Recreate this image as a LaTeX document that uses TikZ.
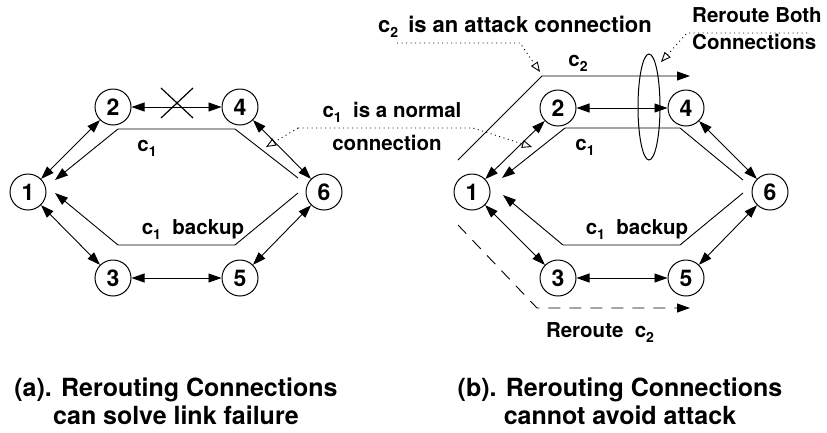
\documentclass[tikz,border=0pt]{standalone}
\usepackage{fontspec}
\setmainfont{TeX Gyre Heros}
\usetikzlibrary{arrows.meta}
% lowered, smaller index for connection names
\newcommand\idx[1]{\raisebox{-0.45ex}{\fontsize{14}{14}\selectfont #1}}

\begin{document}
\begin{tikzpicture}[x=1pt,y=-1pt,
  netnode/.style={circle,draw,line width=1pt,minimum size=36pt,inner sep=0pt,
    font=\fontsize{23}{23}\selectfont\bfseries},
  link/.style={line width=0.9pt,{Triangle[length=13pt,width=9pt]}-{Triangle[length=13pt,width=9pt]}},
  route/.style={line width=0.9pt,-{Triangle[length=13pt,width=9pt]}},
  note/.style={line width=0.9pt,dash pattern=on 1pt off 3.5pt},
  notetip/.style={note,-{Triangle[open,length=10pt,width=8pt]}},
  lbl/.style={inner sep=0pt,font=\fontsize{20.5}{24}\selectfont\bfseries},
  capt/.style={inner sep=0pt,align=center,font=\fontsize{25}{28}\selectfont\bfseries}]

\fill[white] (0,0) rectangle (827,432);
\useasboundingbox (0,0) rectangle (827,432);

% ---------- panel (a) ----------
\node[netnode] (a1) at (28,192) {1};
\node[netnode] (a2) at (113,107) {2};
\node[netnode] (a4) at (240,107) {4};
\node[netnode] (a6) at (324,192) {6};
\node[netnode] (a3) at (113,278) {3};
\node[netnode] (a5) at (240,278) {5};

\draw[link] (a1) -- (a2);
\draw[link] (a2) -- (a4);
\draw[link] (a4) -- (a6);
\draw[link] (a6) -- (a5);
\draw[link] (a5) -- (a3);
\draw[link] (a3) -- (a1);

% failed link
\draw[line width=1.2pt] (161,88) -- (193,118) (161,118) -- (193,88);

% working path and backup path of c1
\coordinate (ac1s) at (298,178);
\coordinate (ac1e) at (55,180);
\coordinate (abks) at (298,193);
\coordinate (abke) at (55,193);
\draw[route] (ac1s) -- (235,129) -- (118,129) -- (ac1e);
\draw[route] (abks) -- (235,245) -- (118,245) -- (abke);
\node[lbl] (ac1) at (147,148) {c\idx{1}};
\node[lbl] (abk) at (193,230) {c\idx{1}\ \ backup};

\node[capt] (capa) at (176,401) {(a). Rerouting Connections\\can solve link failure};

% ---------- panel (b) ----------
\node[netnode] (b1) at (472,192) {1};
\node[netnode] (b2) at (558,108) {2};
\node[netnode] (b4) at (686,108) {4};
\node[netnode] (b6) at (770,192) {6};
\node[netnode] (b3) at (558,278) {3};
\node[netnode] (b5) at (686,278) {5};

\draw[link] (b1) -- (b2);
\draw[link] (b2) -- (b4);
\draw[link] (b4) -- (b6);
\draw[link] (b6) -- (b5);
\draw[link] (b5) -- (b3);
\draw[link] (b3) -- (b1);

\coordinate (bc1s) at (743,180);
\coordinate (bc1e) at (502,178);
\coordinate (bbks) at (743,193);
\coordinate (bbke) at (503,195);
\draw[route] (bc1s) -- (680,128) -- (565,128) -- (bc1e);
\draw[route] (bbks) -- (680,245) -- (563,245) -- (bbke);
\node[lbl] (bc1) at (585,147) {c\idx{1}};
\node[lbl] (bbk) at (637,230) {c\idx{1}\ \ backup};

% attack connection c2 and its reroute
\coordinate (c2s) at (458,160);
\coordinate (c2k) at (542,76);
\coordinate (c2e) at (690,76);
\draw[route] (c2s) -- (c2k) -- (c2e);
\node[lbl] (c2l) at (578,63) {c\idx{2}};

\coordinate (rrs) at (458,225);
\coordinate (rre) at (690,308);
\draw[route,dash pattern=on 12pt off 9pt] (rrs) -- (537,308) -- (rre);
\node[lbl] (rrl) at (600,333) {Reroute\ \ c\idx{2}};

% cut through both connections
\draw[line width=1pt] (649,107) ellipse [x radius=11pt, y radius=53pt];

% ---------- annotations ----------
\node[lbl] (nrm1) at (392,112) {c\idx{1}\ \ is a normal};
\node[lbl] (nrm2) at (387,143) {connection};
\coordinate (nl) at (298,128);
\coordinate (nr) at (473,128);
\coordinate (nla) at (266,147);
\coordinate (nra) at (532,147);
\draw[notetip] (nl) -- (nla);
\draw[notetip] (nl) -- (nr) -- (nra);

\node[lbl,font=\fontsize{22}{24}\selectfont\bfseries] (atk) at (515,27)
  {c\idx{2}\hspace{10pt}is an attack connection};
\coordinate (atl) at (397,43);
\coordinate (atr) at (520,43);
\coordinate (ata) at (540,72);
\draw[notetip] (atl) -- (atr) -- (ata);

\node[lbl,anchor=west] (rb1) at (692,15) {Reroute Both};
\node[lbl,anchor=west] (rb2) at (692,42) {Connections};
\coordinate (rbr) at (807,33);
\coordinate (rbl) at (687,33);
\coordinate (rba) at (661,62);
\draw[notetip] (rbr) -- (rbl) -- (rba);

\node[capt] (capb) at (620,401) {(b). Rerouting Connections\\cannot avoid attack};
\end{tikzpicture}
\end{document}
